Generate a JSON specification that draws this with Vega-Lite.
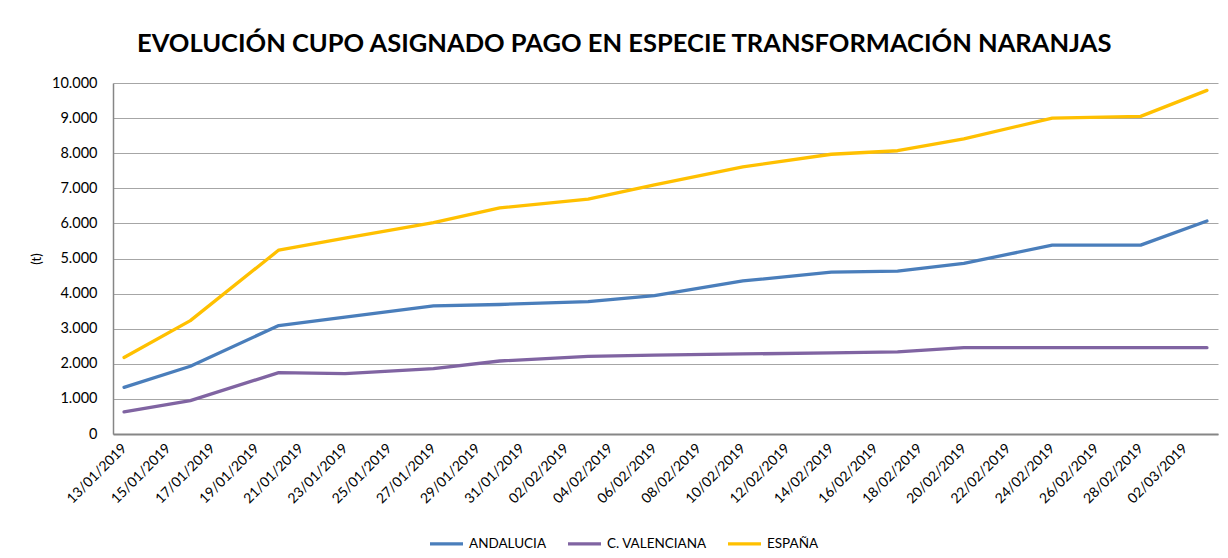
{
  "$schema": "https://vega.github.io/schema/vega-lite/v6.json",
  "width": 1105,
  "height": 351,
  "autosize": {"type": "none"},
  "padding": {"left": 113, "right": 10, "top": 83, "bottom": 124},
  "background": "white",
  "title": {
    "text": "EVOLUCIÓN CUPO ASIGNADO PAGO EN ESPECIE TRANSFORMACIÓN NARANJAS",
    "font": "Lato",
    "fontSize": 25.5,
    "fontWeight": "bold",
    "color": "#000000",
    "anchor": "middle",
    "frame": "bounds",
    "offset": 18
  },
  "data": {
    "values": [
      {"fecha": "2019-01-13", "serie": "ANDALUCIA", "t": 1330},
      {"fecha": "2019-01-16", "serie": "ANDALUCIA", "t": 1930},
      {"fecha": "2019-01-20", "serie": "ANDALUCIA", "t": 3090},
      {"fecha": "2019-01-23", "serie": "ANDALUCIA", "t": 3330},
      {"fecha": "2019-01-27", "serie": "ANDALUCIA", "t": 3650},
      {"fecha": "2019-01-30", "serie": "ANDALUCIA", "t": 3690},
      {"fecha": "2019-02-03", "serie": "ANDALUCIA", "t": 3770},
      {"fecha": "2019-02-06", "serie": "ANDALUCIA", "t": 3940},
      {"fecha": "2019-02-10", "serie": "ANDALUCIA", "t": 4360},
      {"fecha": "2019-02-14", "serie": "ANDALUCIA", "t": 4610},
      {"fecha": "2019-02-17", "serie": "ANDALUCIA", "t": 4640},
      {"fecha": "2019-02-20", "serie": "ANDALUCIA", "t": 4860},
      {"fecha": "2019-02-24", "serie": "ANDALUCIA", "t": 5380},
      {"fecha": "2019-02-28", "serie": "ANDALUCIA", "t": 5380},
      {"fecha": "2019-03-03", "serie": "ANDALUCIA", "t": 6070},
      {"fecha": "2019-01-13", "serie": "C. VALENCIANA", "t": 630},
      {"fecha": "2019-01-16", "serie": "C. VALENCIANA", "t": 950},
      {"fecha": "2019-01-20", "serie": "C. VALENCIANA", "t": 1750},
      {"fecha": "2019-01-23", "serie": "C. VALENCIANA", "t": 1720},
      {"fecha": "2019-01-27", "serie": "C. VALENCIANA", "t": 1860},
      {"fecha": "2019-01-30", "serie": "C. VALENCIANA", "t": 2080},
      {"fecha": "2019-02-03", "serie": "C. VALENCIANA", "t": 2210},
      {"fecha": "2019-02-06", "serie": "C. VALENCIANA", "t": 2250},
      {"fecha": "2019-02-10", "serie": "C. VALENCIANA", "t": 2280},
      {"fecha": "2019-02-14", "serie": "C. VALENCIANA", "t": 2310},
      {"fecha": "2019-02-17", "serie": "C. VALENCIANA", "t": 2340},
      {"fecha": "2019-02-20", "serie": "C. VALENCIANA", "t": 2460},
      {"fecha": "2019-02-24", "serie": "C. VALENCIANA", "t": 2460},
      {"fecha": "2019-02-28", "serie": "C. VALENCIANA", "t": 2460},
      {"fecha": "2019-03-03", "serie": "C. VALENCIANA", "t": 2460},
      {"fecha": "2019-01-13", "serie": "ESPAÑA", "t": 2180},
      {"fecha": "2019-01-16", "serie": "ESPAÑA", "t": 3230},
      {"fecha": "2019-01-20", "serie": "ESPAÑA", "t": 5240},
      {"fecha": "2019-01-23", "serie": "ESPAÑA", "t": 5580},
      {"fecha": "2019-01-27", "serie": "ESPAÑA", "t": 6020},
      {"fecha": "2019-01-30", "serie": "ESPAÑA", "t": 6440},
      {"fecha": "2019-02-03", "serie": "ESPAÑA", "t": 6690},
      {"fecha": "2019-02-06", "serie": "ESPAÑA", "t": 7100},
      {"fecha": "2019-02-10", "serie": "ESPAÑA", "t": 7610},
      {"fecha": "2019-02-14", "serie": "ESPAÑA", "t": 7970},
      {"fecha": "2019-02-17", "serie": "ESPAÑA", "t": 8070},
      {"fecha": "2019-02-20", "serie": "ESPAÑA", "t": 8410},
      {"fecha": "2019-02-24", "serie": "ESPAÑA", "t": 9000},
      {"fecha": "2019-02-28", "serie": "ESPAÑA", "t": 9050},
      {"fecha": "2019-03-03", "serie": "ESPAÑA", "t": 9790}
    ]
  },
  "mark": {"type": "line", "strokeWidth": 3.3, "strokeJoin": "round", "strokeCap": "round"},
  "encoding": {
    "x": {
      "field": "fecha",
      "type": "temporal",
      "scale": {
        "type": "utc",
        "domain": [
          {"year": 2019, "month": 1, "date": 12, "hours": 12, "utc": true},
          {"year": 2019, "month": 3, "date": 3, "hours": 12, "utc": true}
        ]
      },
      "axis": {
        "title": null,
        "grid": false,
        "ticks": false,
        "domainColor": "#868686",
        "domainWidth": 2,
        "labelAngle": -45,
        "labelAlign": "right",
        "labelBaseline": "middle",
        "labelPadding": 12,
        "labelFont": "Lato",
        "labelFontSize": 14,
        "labelColor": "#000000",
        "labelOverlap": false,
        "labelExpr": "utcFormat(datum.value, '%d/%m/%Y')",
        "values": [
          {"year": 2019, "month": 1, "date": 13, "utc": true},
          {"year": 2019, "month": 1, "date": 15, "utc": true},
          {"year": 2019, "month": 1, "date": 17, "utc": true},
          {"year": 2019, "month": 1, "date": 19, "utc": true},
          {"year": 2019, "month": 1, "date": 21, "utc": true},
          {"year": 2019, "month": 1, "date": 23, "utc": true},
          {"year": 2019, "month": 1, "date": 25, "utc": true},
          {"year": 2019, "month": 1, "date": 27, "utc": true},
          {"year": 2019, "month": 1, "date": 29, "utc": true},
          {"year": 2019, "month": 1, "date": 31, "utc": true},
          {"year": 2019, "month": 2, "date": 2, "utc": true},
          {"year": 2019, "month": 2, "date": 4, "utc": true},
          {"year": 2019, "month": 2, "date": 6, "utc": true},
          {"year": 2019, "month": 2, "date": 8, "utc": true},
          {"year": 2019, "month": 2, "date": 10, "utc": true},
          {"year": 2019, "month": 2, "date": 12, "utc": true},
          {"year": 2019, "month": 2, "date": 14, "utc": true},
          {"year": 2019, "month": 2, "date": 16, "utc": true},
          {"year": 2019, "month": 2, "date": 18, "utc": true},
          {"year": 2019, "month": 2, "date": 20, "utc": true},
          {"year": 2019, "month": 2, "date": 22, "utc": true},
          {"year": 2019, "month": 2, "date": 24, "utc": true},
          {"year": 2019, "month": 2, "date": 26, "utc": true},
          {"year": 2019, "month": 2, "date": 28, "utc": true},
          {"year": 2019, "month": 3, "date": 2, "utc": true}
        ]
      }
    },
    "y": {
      "field": "t",
      "type": "quantitative",
      "scale": {"domain": [0, 10000], "nice": false},
      "axis": {
        "title": "(t)",
        "titleFont": "Lato",
        "titleFontSize": 13,
        "titleFontWeight": "normal",
        "titleColor": "#000000",
        "titlePadding": 8,
        "ticks": false,
        "domainColor": "#868686",
        "domainWidth": 1.5,
        "gridColor": "#A6A6A6",
        "gridWidth": 1,
        "labelFont": "Lato",
        "labelFontSize": 14.5,
        "labelColor": "#000000",
        "labelPadding": 16,
        "values": [0, 1000, 2000, 3000, 4000, 5000, 6000, 7000, 8000, 9000, 10000],
        "labelExpr": "replace(format(datum.value, ','), ',', '.')"
      }
    },
    "color": {
      "field": "serie",
      "type": "nominal",
      "scale": {
        "domain": ["ANDALUCIA", "C. VALENCIANA", "ESPAÑA"],
        "range": ["#4A7EBB", "#8064A2", "#FFC000"]
      },
      "legend": {
        "title": null,
        "orient": "none",
        "legendX": 315,
        "legendY": 442,
        "direction": "horizontal",
        "symbolType": "stroke",
        "symbolSize": 1089,
        "symbolStrokeWidth": 3.3,
        "labelFont": "Lato",
        "labelFontSize": 13.5,
        "labelColor": "#000000",
        "labelOffset": 4,
        "columnPadding": 14
      }
    }
  },
  "config": {
    "view": {"stroke": null}
  }
}
